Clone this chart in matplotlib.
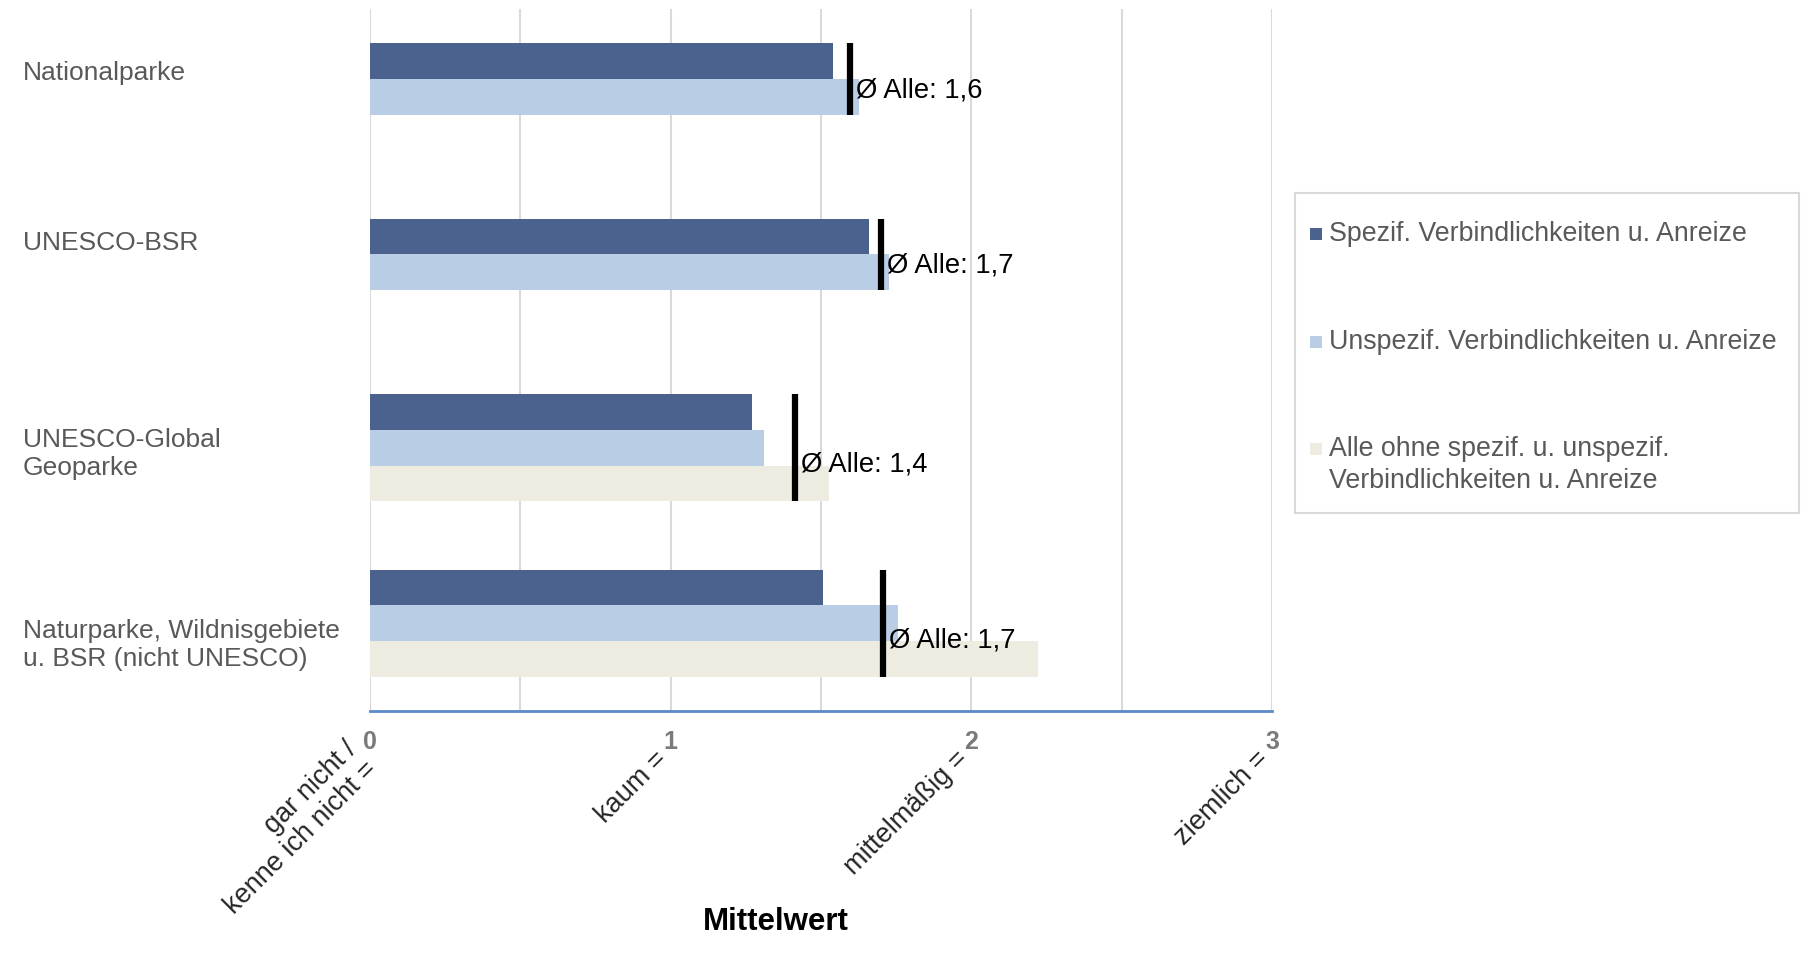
import numpy as np
import matplotlib.pyplot as plt
import matplotlib.transforms as mtransforms
from matplotlib.patches import Rectangle

plt.rcParams['font.family'] = ['Liberation Sans', 'DejaVu Sans']

# daten
categories = ['Nationalparke', 'UNESCO-BSR', 'UNESCO-Global\nGeoparke',
              'Naturparke, Wildnisgebiete\nu. BSR (nicht UNESCO)']
spezif = np.array([1.54, 1.66, 1.27, 1.505])
unspezif = np.array([1.625, 1.727, 1.31, 1.757])
alle_ohne = np.array([np.nan, np.nan, 1.527, 2.221])
mittel_alle = np.array([1.597, 1.699, 1.414, 1.705])

series_names = ['Spezif. Verbindlichkeiten u. Anreize',
                'Unspezif. Verbindlichkeiten u. Anreize',
                'Alle ohne spezif. u. unspezif.\nVerbindlichkeiten u. Anreize']
x_ticks = [0, 1, 2, 3]
x_names = ['gar nicht /\nkenne ich nicht =', 'kaum =', 'mittelmäßig =', 'ziemlich =']

# estilo
colors = ['#4B628E', '#B9CDE5', '#EEECE1']
grey = '#595959'
label_shift = [-0.135, -0.165, 0.035, 0.125]
legend_top = [221, 329, 436]   # pixel, oben der Texte

W, H = 1808, 955
fig = plt.figure(figsize=(W/100, H/100), dpi=100)
ax = fig.add_axes([370/W, 1 - 711/H, 902/W, 702/H])

y = np.arange(len(categories))
h = 0.204
for i, vals in enumerate([spezif, unspezif, alle_ohne]):
    ax.barh(y + (i - 1) * h, vals, height=h, color=colors[i], zorder=2)

# linea del promedio
n_bars = (~np.isnan(np.vstack([spezif, unspezif, alle_ohne]))).sum(axis=0)
top = y - 1.5 * h
ax.vlines(mittel_alle, top, top + n_bars * h, color='black', linewidth=4.5, zorder=4)
for xm, yt, n in zip(mittel_alle, top, n_bars):
    ax.annotate('Ø Alle: ' + f'{xm:.1f}'.replace('.', ','), xy=(xm, yt + 0.66 * n * h),
                xytext=(4.5, 0), textcoords='offset points', va='center', ha='left',
                fontsize=19.7, color='black', zorder=5)

ax.set_xlim(0, 3)
ax.set_ylim(3.5, -0.5)
ax.set_xticks(x_ticks)
ax.set_xticks(np.arange(0.5, 3, 1), minor=True)
ax.grid(axis='x', which='both', color='#D9D9D9', linewidth=1.5, zorder=0)
ax.set_xticklabels([str(t) for t in x_ticks], fontsize=18, color='#7A7A7A',
                   fontweight='bold')
ax.tick_params(axis='x', which='both', length=0, pad=13.5)
ax.set_yticks([])
for s in ['top', 'right', 'left']:
    ax.spines[s].set_visible(False)
ax.spines['bottom'].set_color('#5B8BC9')
ax.spines['bottom'].set_linewidth(2)

# etiquetas de categorias
trans = mtransforms.blended_transform_factory(fig.transFigure, ax.transData)
for cat, yc, dy in zip(categories, y, label_shift):
    ax.text(23/W, yc + dy, cat, transform=trans, ha='left', va='center',
            fontsize=19, color=grey, linespacing=1.22)

# nombres de la escala, rotados
for xt, name in zip(x_ticks, x_names):
    ax.annotate(name, xy=(xt, 0), xycoords=('data', 'axes fraction'),
                xytext=(-5, -32), textcoords='offset points', rotation=45,
                rotation_mode='anchor', ha='right', va='center', multialignment='right',
                fontsize=19.5, color='#262626', linespacing=1.1)

fig.text(776/W, 1 - 922/H, 'Mittelwert', ha='center', va='center',
         fontsize=22.5, fontweight='bold', color='black')

# leyenda hecha a mano
fig.add_artist(Rectangle((1295/W, 1 - 513/H), 504/W, 320/H, transform=fig.transFigure,
                         fill=False, edgecolor='#D9D9D9', linewidth=1.5))
for name, c, ty in zip(series_names, colors, legend_top):
    sq = 12
    fig.add_artist(Rectangle((1310/W, 1 - (ty + 13 + sq/2)/H), sq/W, sq/H,
                             transform=fig.transFigure, facecolor=c, edgecolor='none'))
    fig.text(1329/W, 1 - ty/H, name, ha='left', va='top', fontsize=19.3,
             color=grey, linespacing=1.3)

fig.savefig('out.png', dpi=100)
